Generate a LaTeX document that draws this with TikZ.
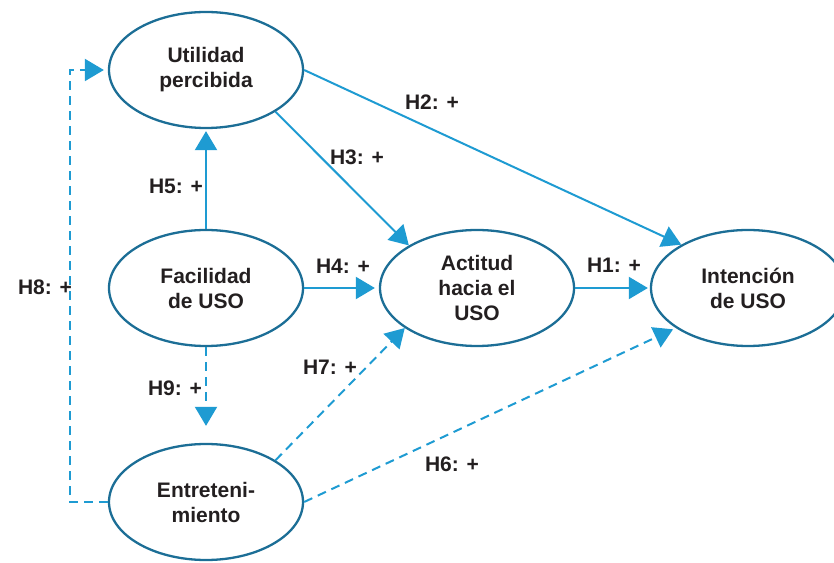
\documentclass[tikz,border=0pt]{standalone}
\usepackage{fontspec}
\setmainfont{Liberation Sans}
\usetikzlibrary{arrows.meta,shapes.geometric}
\definecolor{ringblue}{HTML}{1C6E96}
\definecolor{arrowblue}{HTML}{1E9BD2}
\definecolor{inkblack}{HTML}{231F20}
\begin{document}
\begin{tikzpicture}[x=1pt,y=1pt,
  construct/.style={ellipse, draw=ringblue, line width=2.3pt, minimum width=194pt, minimum height=116pt, inner sep=0pt, align=center, font=\bfseries\fontsize{21}{25}\selectfont, text=inkblack},
  hyp/.style={font=\bfseries\fontsize{21}{25}\selectfont, text=inkblack, anchor=base, inner sep=0pt},
  link/.style={draw=arrowblue, line width=2pt, -{Triangle[length=19pt,width=22pt]}},
  dlink/.style={link, dash pattern=on 9pt off 6pt}]
\useasboundingbox (0,0) rectangle (834,562);
\clip (0,0) rectangle (834,562);
\node[construct] (U) at (206,492) {Utilidad\\percibida};
\node[construct] (F) at (206,274) {Facilidad\\de USO};
\node[construct] (E) at (206,60) {Entreteni-\\miento};
\node[construct] (A) at (477,274) {Actitud\\hacia el\\USO};
\node[construct] (I) at (748,274) {Intención\\de USO};
\draw[link, shorten >=2pt] (F.north) -- (U.south);
\draw[link] (U.-31) -- (A.148);
\draw[link] (U.east) -- (I.147);
\draw[link, shorten >=4pt] (F.east) -- (A.west);
\draw[link, shorten >=2pt] (A.east) -- (I.west);
\draw[dlink, shorten >=3pt] (E.east) -- (I.209);
\draw[dlink] (E.31) -- (A.209);
\draw[dlink, shorten >=17pt] (F.south) -- (E.north);
\draw[dlink, shorten >=4pt] (E.west) -- ++(-38,0) |- (U.west);
\node[hyp] (h2) at (432,452) {H2: +};
\node[hyp] (h3) at (357,397) {H3: +};
\node[hyp] (h5) at (176,368) {H5: +};
\node[hyp] (h4) at (343,288) {H4: +};
\node[hyp] (h1) at (614,289) {H1: +};
\node[hyp] (h8) at (45,267) {H8: +};
\node[hyp] (h9) at (175,166) {H9: +};
\node[hyp] (h7) at (330,187) {H7: +};
\node[hyp] (h6) at (452,91) {H6: +};
\end{tikzpicture}
\end{document}
